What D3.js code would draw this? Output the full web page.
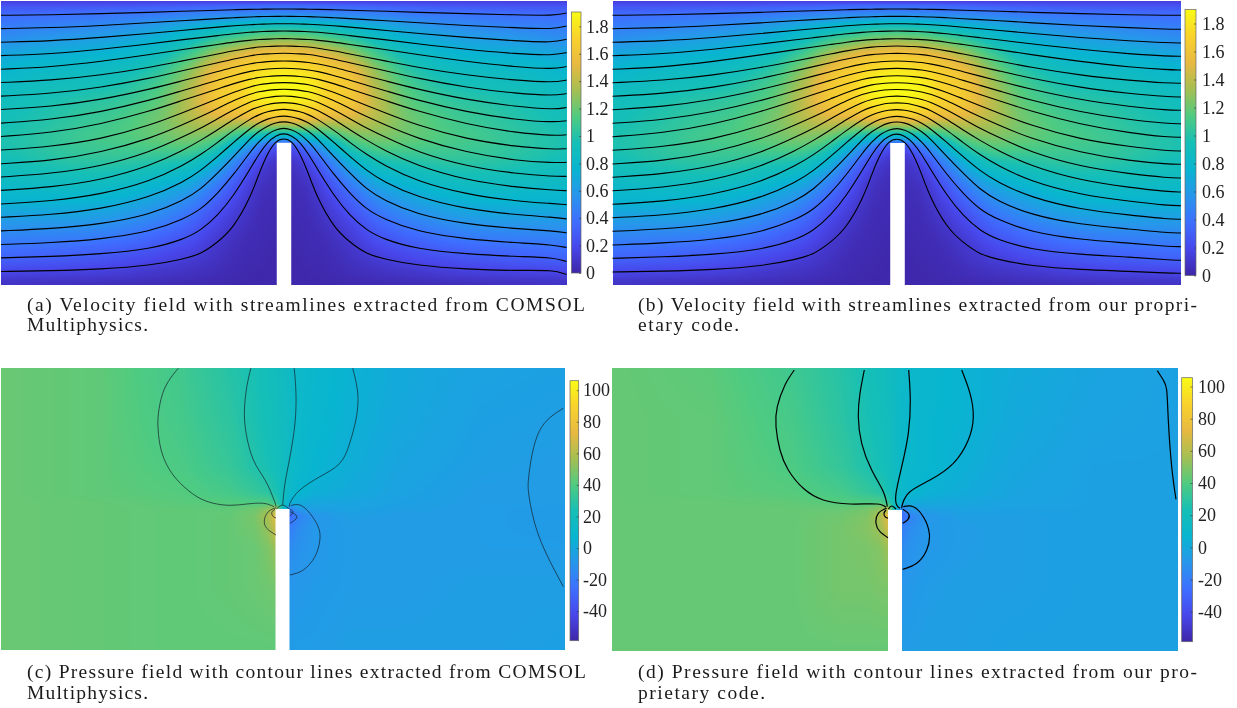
<!DOCTYPE html>
<html><head><meta charset="utf-8">
<script src="https://cdn.jsdelivr.net/npm/d3@7"></script>
<style>html,body{margin:0;padding:0;background:#fff;overflow:hidden}
#chart{position:relative;width:1237px;height:708px}
canvas,svg{position:absolute;left:0;top:0}</style></head>
<body><div id="chart"></div>
<script>
// ---------- DATA ----------
const parulaColors=["#3e26a8","#4847eb","#3e6fff","#2796eb","#08b5d0","#16bfb6","#50cb80","#a5bf52","#e8b941","#f9d22c","#f9fb15"];

// Speed field: left half of the channel (mirrored about the plate)
const speedX=[0,40,80,120,160,190,215,240,258,270,283];
const speedY=[0,5,12,25,40,55,70,85,100,115,125,135,145,160,180,200,220,240,260,275,284];
const speedRows=[
[.15,.15,.15,.15,.15,.15,.15,.14,.13,.13,.13],
[.25,.25,.26,.27,.29,.31,.33,.35,.36,.37,.37],
[.35,.36,.38,.40,.42,.45,.47,.48,.49,.50,.50],
[.45,.47,.50,.54,.62,.70,.78,.85,.90,.92,.93],
[.55,.60,.63,.68,.78,.92,1.08,1.20,1.28,1.30,1.32],
[.68,.73,.76,.80,.92,1.12,1.35,1.52,1.60,1.63,1.64],
[.78,.83,.86,.90,1.04,1.28,1.55,1.68,1.76,1.80,1.82],
[.85,.90,.93,.98,1.13,1.36,1.62,1.72,1.85,1.89,1.90],
[.90,.95,1.00,1.05,1.18,1.40,1.62,1.70,1.80,1.84,1.85],
[.93,.98,1.04,1.10,1.22,1.38,1.50,1.55,1.62,1.66,1.66],
[.95,1.00,1.06,1.12,1.22,1.32,1.36,1.30,1.32,1.32,1.30],
[.97,1.02,1.08,1.13,1.20,1.25,1.20,1.02,.90,.82,.80],
[.97,1.02,1.07,1.10,1.14,1.15,1.03,.72,.48,.32,.25],
[.93,.98,1.02,1.03,1.00,.95,.76,.44,.22,.12,.08],
[.85,.88,.90,.88,.80,.70,.50,.25,.10,.06,.04],
[.75,.76,.76,.72,.62,.50,.32,.15,.06,.04,.03],
[.60,.60,.60,.55,.46,.34,.20,.09,.04,.03,.02],
[.45,.44,.42,.38,.30,.22,.12,.05,.03,.02,.01],
[.30,.28,.26,.22,.17,.12,.07,.03,.02,.01,.01],
[.15,.14,.13,.11,.08,.06,.04,.02,.01,.01,.01],
[.08,.07,.06,.05,.04,.03,.02,.01,.01,.01,.01]];

// Streamlines: height at each station on the approach to the plate tip
const streamX=[0,50,100,150,183,200,217,233,250,258,267,275,283];
const streamY=[
[14.3,13.9,12.7,11.3,10.2,9.7,9.2,8.7,8.3,8.2,8.1,8,8],
[27.7,26.8,24.6,21.7,19.6,18.6,17.7,16.7,15.9,15.7,15.5,15.4,15.3],
[41.3,40,36.6,32.4,29.2,27.7,26.2,24.7,23.6,23.3,23,22.8,22.7],
[54.7,53,48.5,42.8,38.6,36.7,34.7,32.7,31.2,30.7,30.4,30.1,30],
[68.3,66.2,60.6,53.6,48.4,46,43.5,41.1,39.2,38.6,38.2,37.8,37.7],
[81.7,79.5,74.4,66.3,59.7,56.4,53,49.8,47,46.1,45.5,45.2,45],
[95.3,92.7,86.7,77.2,69.5,65.6,61.8,57.9,54.7,53.6,52.9,52.5,52.3],
[108.7,105.8,99,88.2,79.5,75.1,70.7,66.3,62.7,61.5,60.7,60.2,60],
[122.3,119,111.3,99.2,89.3,84.4,79.4,74.4,70.3,69,68.1,67.6,67.3],
[135.7,132.1,123.5,110.1,99.1,93.6,88.1,82.6,78,76.5,75.6,75,74.7],
[149.3,145.9,138.5,124.3,111.4,104.7,97.9,91.2,85.8,83.7,82.7,82,81.7],
[163,160,151.8,137.6,123.4,115.9,107.7,99.5,92.8,90.9,89.4,88.7,88.3],
[176.3,173,165.7,151.1,135.6,127.5,117.8,108.8,100.7,98.3,96.6,95.4,95],
[189.7,186.6,179.6,165,149.2,139.5,129,118.4,108.7,106.1,103.5,102.1,101.7],
[203.3,200.5,193.8,180.5,164.3,153.9,141.6,129.2,117.8,114,110.7,109.2,108.3],
[216.7,214.2,208.6,196.4,181.1,169.9,155.7,141.4,127.2,122.1,118,116,115],
[230.3,228.1,223.7,213.9,199.6,188.7,172.2,155.8,137.1,130.6,125,121.8,120.7],
[244,242.2,238.7,231.1,218.3,208.9,192.5,173.8,150.4,141,132.9,128.8,127],
[257.3,256,253.5,248.5,238.6,229.8,214.8,194.8,167.3,153.5,141,134.8,132.3],
[271,270.3,268.7,265,258.3,253.6,241.6,226.9,196.1,173.4,152,140,137.3]];
const tailX=[553,566];
const tailMidA=[14.7,28.3,41.7,54.5,68.3,81.7,95,108.7,121.5,135,148.5,162,175.8,189.5,203,216.7,230.3,244.3,257,269.3];
const tailEndA=[12,25,38.3,51.7,65.7,79.3,92.7,106.7,120,134,148,161.7,175.7,190,204,218.3,232.3,247,261,274];
const tailMidB=[14.3,28.2,41.8,55.2,68.8,82.2,95.8,109.1,122.6,136.1,149.8,163.1,176.8,190.8,204.5,218.1,231.8,245.5,259,272.2];
const tailEndB=[14.3,28.3,42,55.3,69,82.3,96,109.3,122.7,136.3,150,163.3,177,191,204.7,218.3,232,245.7,259.3,272.3];

// Pressure field
const pressX=[0,100,180,230,255,268,276,283,290,298,315,350,400,480,566];
const pressY=[0,50,100,125,135,141,148,160,180,220,282];
const pressRowsC=[
[45,43,36,28,24,21,19,17,15,13,10,6,1,-3,-4],
[45,43,37,30,25,22,20,18,15,12,9,5,0,-4,-5],
[45,43,39,33,27,24,21,18,14,11,7,3,-2,-5,-6],
[45,43,41,37,33,30,25,19,12,8,4,1,-3,-6,-6],
[45,44,42,41,40,40,33,18,4,2,-1,-2,-4,-6,-6],
[45,44,43,43,46,52,60,18,-18,-8,-4,-3,-5,-6,-7],
[45,44,43,44,48,58,72,18,-28,-18,-9,-5,-6,-6,-7],
[45,44,43,44,47,54,66,18,-20,-14,-8,-6,-6,-6,-7],
[45,44,43,44,45,49,55,18,-14,-11,-8,-6,-6,-6,-6],
[45,44,43,44,45,46,47,18,-9,-8,-7,-6,-6,-5,-5],
[45,44,43,43,43,43,43,18,-7,-6,-6,-5,-5,-5,-4]];
const pressRowsD=[
[44,42,35,28,23,20,18,15,13,11,9,6,2,-2,-4],
[44,43,37,29,24,21,19,15,12,10,8,6,1,-3,-4],
[44,43,39,32,26,23,20,16,12,10,8,4,-1,-4,-4],
[44,43,41,37,32,29,24,17,11,8,5,2,-2,-4,-4],
[44,44,43,41,40,40,33,16,4,2,0,-1,-3,-4,-4],
[44,44,44,44,47,52,60,16,-18,-8,-4,-3,-4,-4,-4],
[44,44,44,46,49,58,72,16,-28,-18,-9,-5,-5,-4,-4],
[44,44,44,47,50,55,66,16,-20,-14,-8,-6,-5,-4,-4],
[44,44,44,47,48,50,55,16,-14,-11,-8,-6,-5,-4,-4],
[44,44,44,47,47,48,48,16,-9,-8,-6,-5,-5,-4,-4],
[44,44,44,44,44,44,44,16,-6,-6,-5,-5,-4,-4,-4]];

// Pressure contour lines
const contoursC=[
[[178,0.3],[170,10.3],[162.3,25.3],[158,45.3],[157.7,62],[160.7,82],[168.3,100.3],[180,115.3],[196.7,128.7],[213.3,135.3],[230,137.3],[246.7,136],[263.3,135.3],[274,138.7]],
[[250.7,0.3],[246.7,18.7],[244.3,42],[246,65.3],[253.3,92],[265,112],[274,132],[276,138.7]],
[[294.3,0.3],[296,25.3],[295,55.3],[290,88.7],[285,115.3],[282.7,137]],
[[353,0.3],[358,25],[356.5,50],[350,75],[340,95.3],[320,108.7],[300,122],[290.7,133.7],[289.3,138.7]],
[[290.7,137.7],[300,137],[310,145.3],[318.3,158.7],[320,172],[315,188.7],[303.3,202],[290,207]],
[[290,143.7],[296,147],[296,151],[290,155.3]],
[[290,141.5],[292.7,143],[292.3,145.7],[290,147.7]],
[[276,139.7],[268.3,143.7],[264.3,152],[266.7,160.3],[276,167]],
[[275,141.3],[271.7,144.7],[273.3,148.7],[276,149.7]],
[[276.3,141],[280,138],[284,137.5],[289.5,141]],
[[564.3,40.3],[540,63.7],[530,105.3],[530,128.7],[540,168.7],[564.3,218.7]]];
const contoursD=[
[[182.3,2],[173,17],[165.3,38.7],[164,58.7],[168,82],[176.3,102],[191.3,120.3],[211.3,132],[238,136],[264.7,136],[274,139.3]],
[[252.3,2],[248,25.3],[246.3,48.7],[249.7,75.3],[259.7,102],[271.3,123.7],[275.3,138.7]],
[[296.7,2],[298.3,32],[296.3,65.3],[289.7,98.7],[284,125.3],[284.7,137],[288,140.3]],
[[349.7,2],[358,25.3],[361.3,48.7],[356.3,72],[341.3,95.3],[318,112],[298,123.7],[290.7,135.3],[289.7,140.3]],
[[291.3,138.7],[301.3,138.7],[311.3,148.7],[317.3,165.3],[314.7,182],[304.7,195.3],[290.7,201.3]],
[[290.7,141.3],[296.7,146],[296,151.3],[290.7,155.3]],
[[274.7,140.3],[266.3,145.3],[264,155.3],[268,163.7],[276,169.7]],
[[274,142],[272,145.3],[273,148.7],[276,150.3]],
[[276.3,141],[279.7,138],[284,141]],
[[545.3,2.7],[551.3,12],[554.7,22],[556.3,52],[559.7,98.7],[564,131.3]]];

const speedTicks=[0,.2,.4,.6,.8,1,1.2,1.4,1.6,1.8];
const pressTicks=[-40,-20,0,20,40,60,80,100];
const captionLines=[
 ["(a) Velocity field with streamlines extracted from COMSOL","Multiphysics."],
 ["(b) Velocity field with streamlines extracted from our propri-","etary code."],
 ["(c) Pressure field with contour lines extracted from COMSOL","Multiphysics."],
 ["(d) Pressure field with contour lines extracted from our pro-","prietary code."]];

// ---------- LAYOUT ----------
const W=1237,H=708;
const FONT='"Liberation Serif",serif';
const layouts=[
 {x0:1,x1:566.5,y0:1,y1:284.5,dy:284,wall:[276,290.5],wallTop:142,bar:[571.5,581,12,273],dom:[0,1.905],capX:27,capY:[311,331],capW:[558,121],tickX:586},
 {x0:612.5,x1:1181,y0:1,y1:285,dy:284,wall:[276.5,291],wallTop:142,bar:[1185,1196,9.5,275.5],dom:[0,1.9],capX:638,capY:[311,331],capW:[559,101],tickX:1202},
 {x0:1,x1:565,y0:368,y1:650,dy:282,wall:[275.5,289.5],wallTop:141,bar:[570,578.7,380.7,640.7],dom:[-58.7,106],capX:27,capY:[678,699],capW:[559,121],tickX:583},
 {x0:612,x1:1178,y0:368,y1:651,dy:283,wall:[276,290],wallTop:142,bar:[1181.7,1192.5,377.7,641.7],dom:[-58.7,105.5],capX:638,capY:[678,699],capW:[559,127],tickX:1198}
];

const root=d3.select("#chart");
const canvas=root.append("canvas").attr("width",W).attr("height",H).node();
const ctx=canvas.getContext("2d");
const svg=root.append("svg").attr("width",W).attr("height",H);
const parula=d3.piecewise(d3.interpolateRgb,parulaColors);
const img=ctx.createImageData(W,H);

function mirrorRows(rows){return rows.map(r=>r.concat(r.slice(0,-1).reverse()));}
const speedXFull=speedX.concat(speedX.slice(0,-1).reverse().map(x=>566-x));
const speedFull=mirrorRows(speedRows);

function cr(a,b,c,d,t){return .5*(2*b+(c-a)*t+(2*a-5*b+4*c-d)*t*t+(3*b-a-3*c+d)*t*t*t);}
function paintField(L,gx,gy,rows,cubic){
  const px=d3.scaleLinear().domain([L.x0,L.x1]).range([0,566]);
  const py=d3.scaleLinear().domain([L.y0,L.y1]).range([0,L.dy]);
  const ix=d3.scaleLinear().domain(gx).range(d3.range(gx.length)).clamp(true);
  const iy=d3.scaleLinear().domain(gy).range(d3.range(gy.length)).clamp(true);
  const lut=d3.range(512).map(i=>d3.rgb(parula(i/511)));
  const n=gx.length,m=gy.length;
  const R=(j,i)=>rows[Math.max(0,Math.min(m-1,j))][Math.max(0,Math.min(n-1,i))];
  const norm=d3.scaleLinear().domain(L.dom).range([0,511]).clamp(true);
  for(let Y=Math.round(L.y0);Y<Math.round(L.y1);Y++){
    const fy=iy(py(Y+.5)),j=Math.min(m-2,Math.floor(fy)),ty=fy-j;
    for(let X=Math.round(L.x0);X<Math.round(L.x1);X++){
      const fx=ix(px(X+.5)),i=Math.min(n-2,Math.floor(fx)),tx=fx-i;
      let v;
      if(cubic){
        const q=[-1,0,1,2].map(dj=>cr(R(j+dj,i-1),R(j+dj,i),R(j+dj,i+1),R(j+dj,i+2),tx));
        v=cr(q[0],q[1],q[2],q[3],ty);
      }else{
        const a=R(j,i)+(R(j,i+1)-R(j,i))*tx,b=R(j+1,i)+(R(j+1,i+1)-R(j+1,i))*tx;
        v=a+(b-a)*ty;
      }
      const c=lut[Math.round(norm(v))],o=(Y*W+X)*4;
      img.data[o]=c.r;img.data[o+1]=c.g;img.data[o+2]=c.b;img.data[o+3]=255;
    }
  }
}
paintField(layouts[0],speedXFull,speedY,speedFull,true);
paintField(layouts[1],speedXFull,speedY,speedFull,true);
paintField(layouts[2],pressX,pressY,pressRowsC,false);
paintField(layouts[3],pressX,pressY,pressRowsD,false);
ctx.putImageData(img,0,0);

// gradient for colour bars
const grad=svg.append("defs").append("linearGradient").attr("id","parula").attr("x1",0).attr("x2",0).attr("y1",1).attr("y2",0);
grad.selectAll("stop").data(parulaColors).join("stop")
  .attr("offset",(d,i)=>i/(parulaColors.length-1)).attr("stop-color",d=>d);

function panel(L,lines,lineWidth,curve,ticks,fmt,capt){
  const g=svg.append("g");
  const x=d3.scaleLinear().domain([0,566]).range([L.x0,L.x1]);
  const y=d3.scaleLinear().domain([0,L.dy]).range([L.y0,L.y1]);
  g.append("rect").attr("x",x(L.wall[0])).attr("y",y(L.wallTop))
    .attr("width",x(L.wall[1])-x(L.wall[0])).attr("height",y(L.dy)-y(L.wallTop)+1).attr("fill","#fff");
  const line=d3.line().x(d=>x(d[0])).y(d=>y(d[1])).curve(curve);
  g.selectAll("path.l").data(lines).join("path").attr("class","l")
    .attr("d",line).attr("fill","none").attr("stroke",lineWidth<1?"#14202a":"#000").attr("stroke-width",lineWidth);
  const [bx0,bx1,by0,by1]=L.bar;
  g.append("rect").attr("x",bx0).attr("y",by0).attr("width",bx1-bx0).attr("height",by1-by0)
    .attr("fill","url(#parula)").attr("stroke","#666").attr("stroke-width",.7);
  const cy=d3.scaleLinear().domain(L.dom).range([by1,by0]);
  const axis=d3.axisRight(cy).tickValues(ticks).tickFormat(fmt).tickSizeInner(-2).tickSizeOuter(0).tickPadding(L.tickX-bx1);
  const a=g.append("g").attr("transform",`translate(${bx1},0)`).call(axis);
  a.select(".domain").remove();
  a.selectAll("line").attr("stroke","#333").attr("stroke-width",.6);
  a.selectAll("text").attr("font-family",FONT).attr("font-size",18).attr("fill","#222");
  g.selectAll("text.cap").data(capt).join("text").attr("class","cap")
    .attr("x",L.capX).attr("y",(d,i)=>L.capY[i]).attr("textLength",(d,i)=>L.capW[i]).attr("lengthAdjust","spacing")
    .attr("font-family",FONT).attr("font-size",19.5).attr("fill","#1a1a1a").text(d=>d);
}
function streamlines(mid,end){
  return streamY.map((ys,k)=>{
    const left=streamX.map((sx,i)=>[sx,ys[i]]);
    const right=streamX.slice(1,-1).reverse().map(sx=>[566-sx,ys[streamX.indexOf(sx)]]);
    return left.concat(right,[[tailX[0],mid[k]],[tailX[1],end[k]]]);
  });
}
const fmtS=d=>d3.format("")(+d.toFixed(1));
const fmtP=d=>String(d);
panel(layouts[0],streamlines(tailMidA,tailEndA),1.1,d3.curveBasis,speedTicks,fmtS,captionLines[0]);
panel(layouts[1],streamlines(tailMidB,tailEndB),1.1,d3.curveBasis,speedTicks,fmtS,captionLines[1]);
panel(layouts[2],contoursC,.7,d3.curveNatural,pressTicks,fmtP,captionLines[2]);
panel(layouts[3],contoursD,1.2,d3.curveNatural,pressTicks,fmtP,captionLines[3]);
</script></body></html>
